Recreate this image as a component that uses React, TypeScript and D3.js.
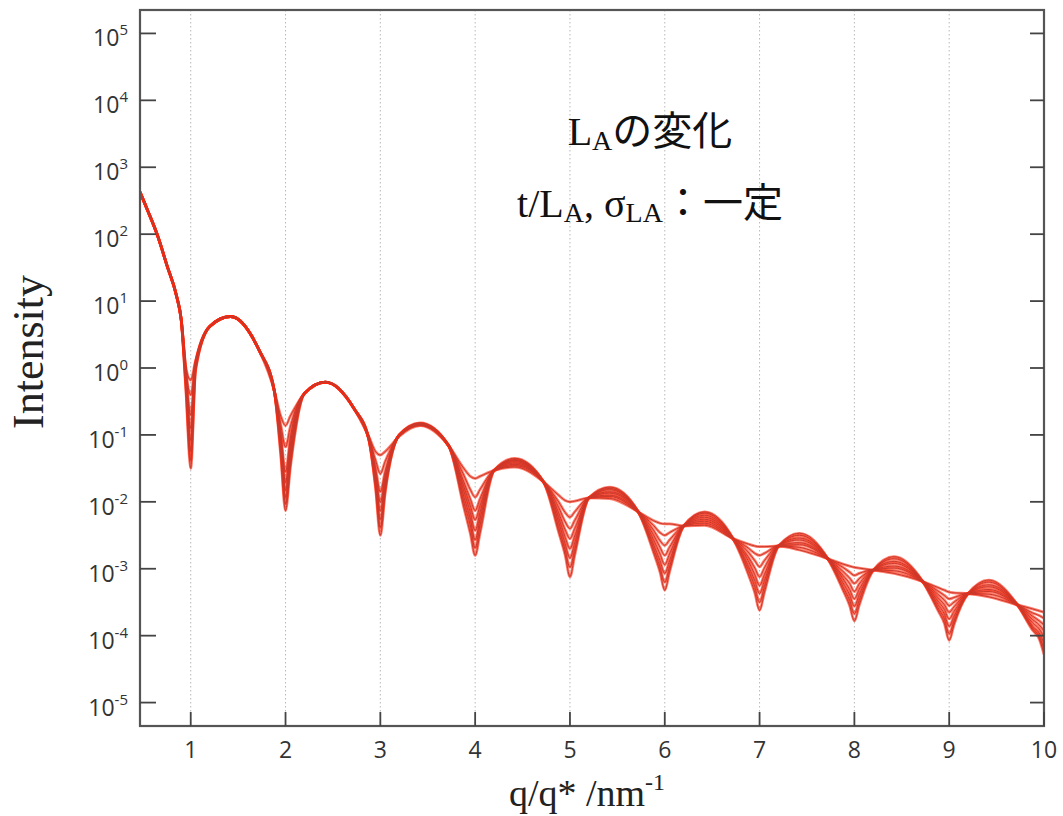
import { useEffect, useRef } from "react";
import * as d3 from "d3";

// q/q* sample positions shared by every curve
const qValues = [
  0.465, 0.55, 0.65, 0.75, 0.85, 0.9, 0.95, 1.0,
  1.05, 1.2, 1.42, 1.72, 1.88, 1.95, 2.0,
  2.05, 2.2, 2.42, 2.72, 2.88, 2.95, 3.0,
  3.05, 3.2, 3.42, 3.72, 3.88, 3.95, 4.0,
  4.05, 4.2, 4.42, 4.72, 4.88, 4.95, 5.0,
  5.05, 5.2, 5.42, 5.72, 5.88, 5.95, 6.0,
  6.05, 6.2, 6.42, 6.72, 6.88, 6.95, 7.0,
  7.05, 7.2, 7.42, 7.72, 7.88, 7.95, 8.0,
  8.05, 8.2, 8.42, 8.72, 8.88, 8.95, 9.0,
  9.05, 9.2, 9.42, 9.72, 9.88, 9.95, 10.0,
];

// log10(Intensity) for each L_A, shallowest minima first
const la1 = [
  2.63, 2.34, 1.98, 1.53, 1.08, 0.72, 0.0, -0.18,
  0.1, 0.62, 0.77, 0.27, -0.33, -0.72, -0.86,
  -0.72, -0.38, -0.21, -0.6, -1.03, -1.25, -1.3,
  -1.25, -1.02, -0.86, -1.16, -1.5, -1.62, -1.65,
  -1.62, -1.53, -1.48, -1.7, -1.9, -1.98, -2.0,
  -1.99, -1.94, -1.95, -2.15, -2.28, -2.32, -2.33,
  -2.33, -2.36, -2.35, -2.55, -2.63, -2.66, -2.67,
  -2.67, -2.66, -2.72, -2.85, -2.93, -2.96, -2.98,
  -2.99, -3.02, -3.07, -3.19, -3.28, -3.32, -3.35,
  -3.36, -3.37, -3.42, -3.54, -3.6, -3.63, -3.65,
];
const la2 = [
  2.63, 2.34, 1.98, 1.53, 1.08, 0.72, -0.05, -0.4,
  0.08, 0.62, 0.77, 0.27, -0.33, -0.85, -1.18,
  -0.88, -0.38, -0.21, -0.6, -1.05, -1.38, -1.58,
  -1.4, -1.01, -0.85, -1.16, -1.6, -1.82, -1.93,
  -1.82, -1.53, -1.46, -1.7, -2.0, -2.16, -2.23,
  -2.15, -1.94, -1.92, -2.15, -2.35, -2.46, -2.5,
  -2.46, -2.36, -2.32, -2.55, -2.69, -2.77, -2.8,
  -2.77, -2.66, -2.68, -2.85, -2.98, -3.05, -3.1,
  -3.07, -3.02, -3.03, -3.19, -3.33, -3.4, -3.45,
  -3.43, -3.37, -3.38, -3.54, -3.66, -3.7, -3.74,
];
const la3 = [
  2.63, 2.34, 1.98, 1.53, 1.08, 0.72, -0.1, -0.7,
  0.06, 0.62, 0.77, 0.27, -0.33, -0.98, -1.55,
  -1.05, -0.38, -0.21, -0.6, -1.06, -1.5, -1.85,
  -1.55, -1.0, -0.85, -1.16, -1.7, -1.96, -2.13,
  -1.96, -1.53, -1.44, -1.7, -2.08, -2.3, -2.4,
  -2.28, -1.94, -1.9, -2.15, -2.42, -2.58, -2.65,
  -2.57, -2.36, -2.29, -2.55, -2.75, -2.88, -2.97,
  -2.88, -2.66, -2.64, -2.85, -3.04, -3.14, -3.22,
  -3.15, -3.02, -2.99, -3.19, -3.38, -3.47, -3.55,
  -3.5, -3.37, -3.34, -3.54, -3.71, -3.78, -3.84,
];
const la4 = [
  2.63, 2.34, 1.98, 1.53, 1.08, 0.72, -0.15, -0.9,
  0.04, 0.62, 0.77, 0.27, -0.33, -1.05, -1.7,
  -1.15, -0.38, -0.21, -0.6, -1.06, -1.58, -2.0,
  -1.63, -1.0, -0.84, -1.16, -1.77, -2.06, -2.27,
  -2.06, -1.53, -1.42, -1.7, -2.16, -2.42, -2.55,
  -2.4, -1.94, -1.87, -2.15, -2.49, -2.68, -2.8,
  -2.68, -2.36, -2.26, -2.55, -2.82, -2.99, -3.12,
  -2.99, -2.66, -2.61, -2.85, -3.1, -3.22, -3.34,
  -3.23, -3.02, -2.96, -3.19, -3.43, -3.54, -3.65,
  -3.57, -3.37, -3.31, -3.54, -3.76, -3.84, -3.93,
];
const la5 = [
  2.63, 2.34, 1.98, 1.53, 1.08, 0.72, -0.2, -1.08,
  0.02, 0.62, 0.77, 0.27, -0.33, -1.12, -1.82,
  -1.25, -0.38, -0.21, -0.6, -1.07, -1.65, -2.13,
  -1.7, -1.0, -0.84, -1.16, -1.84, -2.16, -2.43,
  -2.16, -1.53, -1.4, -1.7, -2.23, -2.53, -2.7,
  -2.51, -1.94, -1.85, -2.15, -2.56, -2.78, -2.94,
  -2.78, -2.36, -2.23, -2.55, -2.88, -3.09, -3.25,
  -3.09, -2.66, -2.57, -2.85, -3.15, -3.31, -3.45,
  -3.31, -3.02, -2.92, -3.19, -3.48, -3.61, -3.75,
  -3.64, -3.37, -3.27, -3.54, -3.81, -3.9, -4.02,
];
const la6 = [
  2.63, 2.34, 1.98, 1.53, 1.08, 0.72, -0.25, -1.24,
  0.0, 0.62, 0.77, 0.27, -0.33, -1.18, -1.93,
  -1.34, -0.38, -0.21, -0.6, -1.07, -1.71, -2.26,
  -1.77, -1.0, -0.83, -1.16, -1.92, -2.26, -2.57,
  -2.26, -1.53, -1.38, -1.7, -2.3, -2.63, -2.84,
  -2.61, -1.94, -1.82, -2.15, -2.63, -2.88, -3.07,
  -2.88, -2.36, -2.2, -2.55, -2.95, -3.18, -3.37,
  -3.18, -2.66, -2.54, -2.85, -3.21, -3.39, -3.56,
  -3.39, -3.02, -2.89, -3.19, -3.53, -3.68, -3.86,
  -3.71, -3.37, -3.24, -3.54, -3.86, -3.96, -4.11,
];
const la7 = [
  2.63, 2.34, 1.98, 1.53, 1.08, 0.72, -0.3, -1.38,
  -0.02, 0.62, 0.77, 0.27, -0.33, -1.25, -2.03,
  -1.42, -0.38, -0.21, -0.6, -1.08, -1.76, -2.38,
  -1.83, -1.0, -0.83, -1.16, -2.0, -2.36, -2.69,
  -2.36, -1.53, -1.37, -1.7, -2.38, -2.72, -2.98,
  -2.71, -1.94, -1.8, -2.15, -2.69, -2.97, -3.2,
  -2.97, -2.36, -2.17, -2.55, -3.01, -3.27, -3.5,
  -3.27, -2.66, -2.5, -2.85, -3.27, -3.47, -3.67,
  -3.47, -3.02, -2.85, -3.19, -3.58, -3.75, -3.97,
  -3.78, -3.37, -3.2, -3.54, -3.89, -4.01, -4.2,
];
const la8 = [
  2.63, 2.34, 1.98, 1.53, 1.08, 0.72, -0.35, -1.5,
  -0.05, 0.62, 0.77, 0.27, -0.33, -1.31, -2.13,
  -1.5, -0.38, -0.21, -0.6, -1.08, -1.8, -2.5,
  -1.88, -1.0, -0.82, -1.16, -2.08, -2.48, -2.8,
  -2.48, -1.53, -1.35, -1.7, -2.45, -2.8, -3.12,
  -2.8, -1.94, -1.78, -2.15, -2.75, -3.05, -3.32,
  -3.05, -2.36, -2.15, -2.55, -3.08, -3.36, -3.62,
  -3.36, -2.66, -2.47, -2.85, -3.32, -3.55, -3.78,
  -3.55, -3.02, -2.82, -3.19, -3.62, -3.82, -4.07,
  -3.84, -3.37, -3.17, -3.54, -3.92, -4.05, -4.28,
];

const allSeries = [la1, la2, la3, la4, la5, la6, la7, la8];
const yExponents = [5, 4, 3, 2, 1, 0, -1, -2, -3, -4, -5];
const xTickValues = [1, 2, 3, 4, 5, 6, 7, 8, 9, 10];

const tickFont = "'Open Sans', 'DejaVu Sans', sans-serif";
const serifFont = "'Liberation Serif', 'Times New Roman', 'Noto Sans CJK JP', serif";
const cjkFont = "'Noto Sans CJK JP', sans-serif";

function App() {
  const ref = useRef<SVGSVGElement>(null);

  useEffect(() => {
    const svg = d3.select(ref.current);
    svg.selectAll("*").remove();

    const margin = { top: 10, left: 140, right: 19, bottom: 90 };
    const width = 1063 - margin.left - margin.right;
    const height = 816 - margin.top - margin.bottom;

    const x = d3.scaleLinear().domain([0.465, 10]).range([0, width]);
    const y = d3
      .scaleLog()
      .domain([Math.pow(10, -5.35), Math.pow(10, 5.35)])
      .range([height, 0]);

    const g = svg
      .append("g")
      .attr("transform", `translate(${margin.left},${margin.top})`);

    g.append("clipPath")
      .attr("id", "plot-clip")
      .append("rect")
      .attr("width", width)
      .attr("height", height);

    // dotted vertical grid
    g.selectAll(".grid")
      .data(xTickValues.filter((d) => d < 10))
      .enter()
      .append("line")
      .attr("x1", (d) => x(d))
      .attr("x2", (d) => x(d))
      .attr("y1", 0)
      .attr("y2", height)
      .attr("stroke", "#b8b8b8")
      .attr("stroke-width", 1)
      .attr("stroke-dasharray", "1.5,2.5");

    // curves: a bright red glow under a thinner darker core
    const line = d3
      .line<number>()
      .x((_, i) => x(qValues[i]))
      .y((d) => y(Math.pow(10, d)))
      .curve(d3.curveMonotoneX);

    const curves = g.append("g").attr("clip-path", "url(#plot-clip)");
    allSeries.forEach((s) => {
      curves
        .append("path")
        .datum(s)
        .attr("fill", "none")
        .attr("stroke", "#ff2408")
        .attr("stroke-opacity", 0.6)
        .attr("stroke-width", 2.8)
        .attr("d", line);
    });
    allSeries.forEach((s) => {
      curves
        .append("path")
        .datum(s)
        .attr("fill", "none")
        .attr("stroke", "#c9392c")
        .attr("stroke-width", 1)
        .attr("d", line);
    });

    // frame
    g.append("rect")
      .attr("width", width)
      .attr("height", height)
      .attr("fill", "none")
      .attr("stroke", "#555")
      .attr("stroke-width", 2.2);

    // y ticks, both sides, inward
    yExponents.forEach((e) => {
      const yy = y(Math.pow(10, e));
      g.append("line")
        .attr("x1", 0).attr("x2", 16)
        .attr("y1", yy).attr("y2", yy)
        .attr("stroke", "#444").attr("stroke-width", 1.8);
      g.append("line")
        .attr("x1", width - 14).attr("x2", width)
        .attr("y1", yy).attr("y2", yy)
        .attr("stroke", "#444").attr("stroke-width", 1.8);
      const t = g
        .append("text")
        .attr("x", -12)
        .attr("y", yy + 13)
        .attr("text-anchor", "end")
        .attr("font-family", tickFont)
        .attr("font-size", 23)
        .attr("fill", "#333");
      t.append("tspan").text("10");
      t.append("tspan")
        .attr("dy", -11)
        .attr("font-size", 15)
        .text(String(e));
    });

    // x ticks, inward
    xTickValues.forEach((q) => {
      g.append("line")
        .attr("x1", x(q)).attr("x2", x(q))
        .attr("y1", height).attr("y2", height - 14)
        .attr("stroke", "#444").attr("stroke-width", 1.8);
      g.append("text")
        .attr("x", x(q))
        .attr("y", height + 32)
        .attr("text-anchor", "middle")
        .attr("font-family", tickFont)
        .attr("font-size", 23)
        .attr("fill", "#333")
        .text(String(q));
    });

    // x label
    const xl = svg
      .append("text")
      .attr("x", 587)
      .attr("y", 806)
      .attr("text-anchor", "middle")
      .attr("font-family", serifFont)
      .attr("font-size", 38)
      .attr("fill", "#222");
    xl.append("tspan").text("q/q* /nm");
    xl.append("tspan").attr("dy", -16).attr("font-size", 24).text("-1");

    // y label
    svg
      .append("text")
      .attr("transform", "translate(43,352) rotate(-90)")
      .attr("text-anchor", "middle")
      .attr("font-family", serifFont)
      .attr("font-size", 44)
      .attr("fill", "#222")
      .text("Intensity");

    // annotation
    const l1 = svg
      .append("text")
      .attr("x", 650)
      .attr("y", 145)
      .attr("text-anchor", "middle")
      .attr("font-family", serifFont)
      .attr("font-size", 40)
      .attr("fill", "#111");
    l1.append("tspan").text("L");
    l1.append("tspan").attr("dy", 5).attr("font-size", 28).text("A");
    l1.append("tspan").attr("dy", -5).attr("font-family", cjkFont).text("の変化");

    const l2 = svg
      .append("text")
      .attr("x", 650)
      .attr("y", 217)
      .attr("text-anchor", "middle")
      .attr("font-family", serifFont)
      .attr("font-size", 40)
      .attr("fill", "#111");
    l2.append("tspan").text("t/L");
    l2.append("tspan").attr("dy", 5).attr("font-size", 28).text("A");
    l2.append("tspan").attr("dy", -5).text(", σ");
    l2.append("tspan").attr("dy", 5).attr("font-size", 28).text("LA");
    l2.append("tspan").attr("dy", -5).attr("font-family", cjkFont).text("：一定");
  }, []);

  return (
    <svg
      ref={ref}
      width={1063}
      height={816}
      style={{ position: "absolute", left: 0, top: 0, background: "#fff" }}
    />
  );
}

export default App;
